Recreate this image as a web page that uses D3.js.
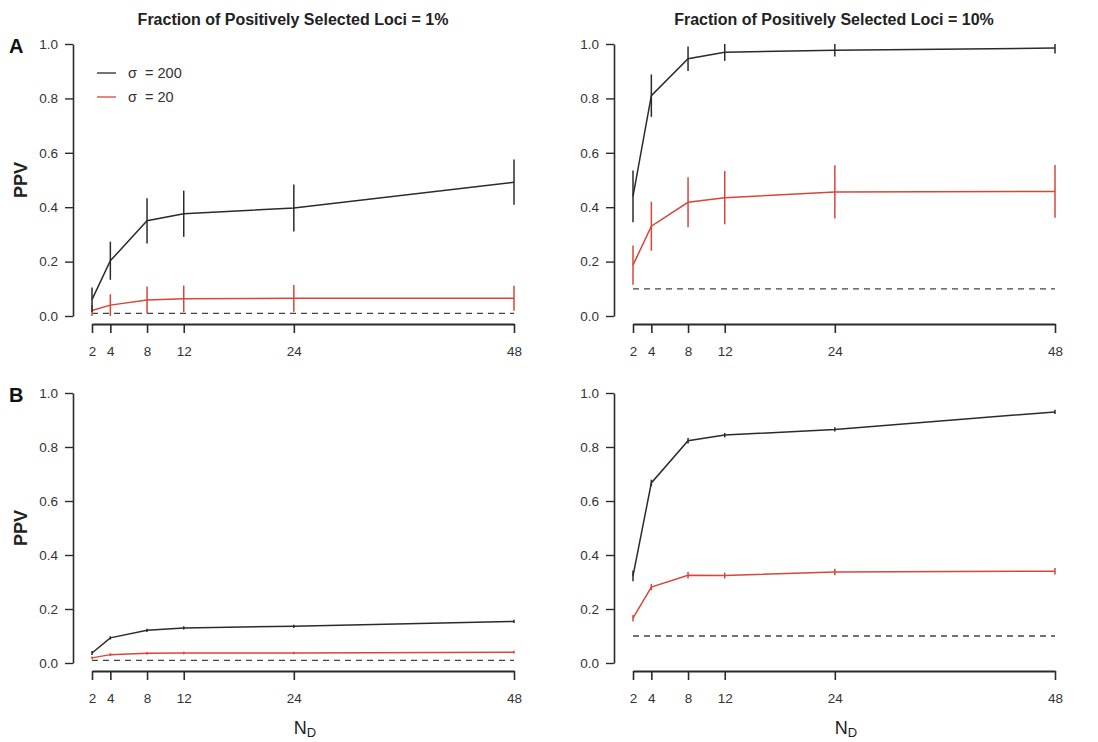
<!DOCTYPE html>
<html>
<head>
  <title>PPV vs N_D</title>
  <script src="https://d3js.org/d3.v7.min.js"></script>
  <style>
    body { margin: 0; background: #fff; }
    text { font-family: "Liberation Sans", Arial, sans-serif; }
  </style>
</head>
<body>
  <div id="chart"></div>

  <script>
    // Data
    const nD = [2, 4, 8, 12, 24, 48];
    const yTicks = [0, 0.2, 0.4, 0.6, 0.8, 1.0];
    const columnTitles = ['Fraction of Positively Selected Loci = 1%', 'Fraction of Positively Selected Loci = 10%'];
    const rowLabels = ['A', 'B'];
    const seriesNames = ['\u03C3  = 200', '\u03C3  = 20'];

    // panel A, 1%
    const a1Sigma200 = [0.06, 0.203, 0.35, 0.376, 0.397, 0.492];
    const a1Sigma200Err = [0.045, 0.07, 0.083, 0.085, 0.086, 0.083];
    const a1Sigma20 = [0.02, 0.04, 0.059, 0.063, 0.065, 0.065];
    const a1Sigma20Err = [0.02, 0.04, 0.049, 0.049, 0.049, 0.046];
    // panel A, 10%
    const a10Sigma200 = [0.44, 0.81, 0.946, 0.97, 0.977, 0.985];
    const a10Sigma200Err = [0.095, 0.078, 0.045, 0.032, 0.023, 0.02];
    const a10Sigma20 = [0.187, 0.33, 0.418, 0.435, 0.456, 0.458];
    const a10Sigma20Err = [0.072, 0.09, 0.092, 0.098, 0.098, 0.097];
    // panel B, 1%
    const b1Sigma200 = [0.037, 0.093, 0.121, 0.13, 0.136, 0.154];
    const b1Sigma200Err = [0.007, 0.006, 0.006, 0.006, 0.006, 0.006];
    const b1Sigma20 = [0.019, 0.031, 0.036, 0.037, 0.037, 0.04];
    const b1Sigma20Err = [0.005, 0.005, 0.005, 0.005, 0.005, 0.005];
    // panel B, 10%
    const b10Sigma200 = [0.323, 0.667, 0.823, 0.844, 0.865, 0.93];
    const b10Sigma200Err = [0.02, 0.012, 0.01, 0.008, 0.008, 0.008];
    const b10Sigma20 = [0.166, 0.281, 0.325, 0.324, 0.337, 0.34];
    const b10Sigma20Err = [0.012, 0.012, 0.012, 0.011, 0.012, 0.012];

    const baselines = [0.01, 0.1, 0.01, 0.1];

    const panels = [
      { row: 0, col: 0, s200: a1Sigma200, e200: a1Sigma200Err, s20: a1Sigma20, e20: a1Sigma20Err, base: baselines[0] },
      { row: 0, col: 1, s200: a10Sigma200, e200: a10Sigma200Err, s20: a10Sigma20, e20: a10Sigma20Err, base: baselines[1] },
      { row: 1, col: 0, s200: b1Sigma200, e200: b1Sigma200Err, s20: b1Sigma20, e20: b1Sigma20Err, base: baselines[2] },
      { row: 1, col: 1, s200: b10Sigma200, e200: b10Sigma200Err, s20: b10Sigma20, e20: b10Sigma20Err, base: baselines[3] }
    ];

    // Layout
    const width = 1098, height = 742;
    const colAxisX = [73, 614];
    const colX = [[92, 514], [633, 1055]];
    const rowY = [[44, 316], [393, 663]];
    const xAxisGap = 8;
    const black = '#2b2b2b', red = '#d5473a', textCol = '#333';

    const svg = d3.select('#chart')
      .append('svg')
      .attr('width', width)
      .attr('height', height);

    panels.forEach(p => {
      const g = svg.append('g');
      const x = d3.scaleLinear().domain([2, 48]).range(colX[p.col]);
      const y = d3.scaleLinear().domain([0, 1]).range([rowY[p.row][1], rowY[p.row][0]]);

      // y axis
      const ya = g.append('g')
        .attr('transform', `translate(${colAxisX[p.col]},0)`)
        .call(d3.axisLeft(y).tickValues(yTicks).tickFormat(d3.format('.1f')).tickSize(8).tickSizeOuter(0).tickPadding(7));
      ya.select('.domain').attr('stroke', black).attr('stroke-width', 1.6);
      ya.selectAll('.tick line').attr('stroke', black).attr('stroke-width', 1.4);
      ya.selectAll('text').attr('font-size', 13.5).attr('fill', textCol);

      // x axis
      const xAxisY = rowY[p.row][1] + xAxisGap;
      const xa = g.append('g')
        .attr('transform', `translate(0,${xAxisY})`)
        .call(d3.axisBottom(x).tickValues(nD).tickSize(9).tickSizeOuter(0).tickPadding(13));
      xa.select('.domain').attr('stroke', black).attr('stroke-width', 2);
      xa.selectAll('.tick line').attr('stroke', black).attr('stroke-width', 1.6);
      xa.selectAll('text').attr('font-size', 13.5).attr('fill', textCol);

      // baseline
      g.append('line')
        .attr('x1', x(2)).attr('x2', x(48))
        .attr('y1', y(p.base)).attr('y2', y(p.base))
        .attr('stroke', '#444').attr('stroke-width', 1.3)
        .attr('stroke-dasharray', '6,5');

      const series = [
        { vals: p.s20, errs: p.e20, color: red },
        { vals: p.s200, errs: p.e200, color: black }
      ];
      const line = d3.line().x((d, i) => x(nD[i])).y(d => y(d));

      series.forEach(s => {
        g.append('path')
          .datum(s.vals)
          .attr('d', line)
          .attr('fill', 'none')
          .attr('stroke', s.color)
          .attr('stroke-width', 1.5);
        g.selectAll(null)
          .data(s.vals)
          .enter().append('line')
          .attr('x1', (d, i) => x(nD[i]))
          .attr('x2', (d, i) => x(nD[i]))
          .attr('y1', (d, i) => y(Math.max(0, d - s.errs[i])))
          .attr('y2', (d, i) => y(Math.min(1, d + s.errs[i])))
          .attr('stroke', s.color)
          .attr('stroke-width', 1.5);
      });

      // PPV label and panel letter on left column
      if (p.col === 0) {
        const cy = (rowY[p.row][0] + rowY[p.row][1]) / 2;
        g.append('text')
          .attr('transform', `translate(27,${cy}) rotate(-90)`)
          .attr('text-anchor', 'middle')
          .attr('font-size', 18)
          .attr('font-weight', 'bold')
          .attr('fill', '#222')
          .text('PPV');
        g.append('text')
          .attr('x', 9).attr('y', rowY[p.row][0] + 9)
          .attr('font-size', 20)
          .attr('font-weight', 'bold')
          .attr('fill', '#111')
          .text(rowLabels[p.row]);
      }

      // titles on top row
      if (p.row === 0) {
        g.append('text')
          .attr('x', p.col === 0 ? 293 : 834)
          .attr('y', 25)
          .attr('text-anchor', 'middle')
          .attr('font-size', 16)
          .attr('font-weight', 'bold')
          .attr('fill', '#222')
          .text(columnTitles[p.col]);
      }

      // N_D label on bottom row
      if (p.row === 1) {
        const t = g.append('text')
          .attr('x', (colX[p.col][0] + colX[p.col][1]) / 2 + 2)
          .attr('y', 734)
          .attr('text-anchor', 'middle')
          .attr('font-size', 18)
          .attr('fill', '#222');
        t.append('tspan').text('N');
        t.append('tspan').attr('font-size', 13).attr('dy', 3).text('D');
      }
    });

    // legend
    const legendRows = [{ name: seriesNames[0], color: black }, { name: seriesNames[1], color: red }];
    const legend = svg.append('g').attr('transform', 'translate(97,73)');
    legendRows.forEach((r, i) => {
      legend.append('line')
        .attr('x1', 0).attr('x2', 19)
        .attr('y1', i * 24).attr('y2', i * 24)
        .attr('stroke', r.color).attr('stroke-width', 1.3);
      legend.append('text')
        .attr('x', 31).attr('y', i * 24 + 5)
        .attr('font-size', 14.5)
        .attr('fill', textCol)
        .style('white-space', 'pre')
        .text(r.name);
    });
  </script>
</body>
</html>
